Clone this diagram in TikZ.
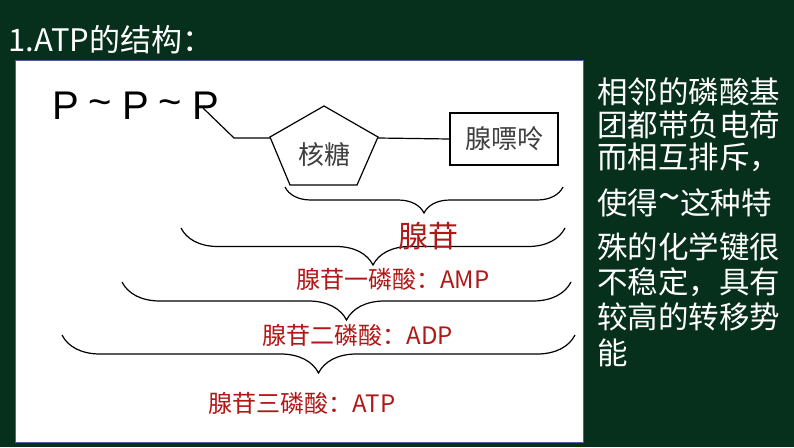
\documentclass[tikz,border=0pt]{standalone}
\usepackage{fontspec}
\setmainfont{Liberation Sans}
\newfontfamily\cjk{Noto Sans CJK SC}
\usetikzlibrary{decorations.pathreplacing,shapes.geometric}
\definecolor{board}{HTML}{06301C}
\definecolor{redt}{HTML}{B01818}
\tikzset{
  brc/.style={draw=black,line width=1.2pt,decorate,decoration={brace,mirror,amplitude=#1}},
  lbl/.style={text=redt,font=\cjk\fontsize{24}{24}\selectfont,inner sep=0pt},
  side/.style={text=white,anchor=west,inner sep=0pt,font=\cjk\fontsize{30.5}{30.5}\selectfont},
  ln/.style={draw=black,line width=1.2pt}
}
\newcommand{\tld}{\hspace{10pt}\raisebox{4pt}{\char`~}\hspace{10pt}}
\begin{document}
\begin{tikzpicture}[x=1pt,y=-1pt]
\fill[board] (0,0) rectangle (794,447);
\useasboundingbox (0,0) rectangle (794,447);
\draw[fill=white,draw=gray!70!blue,line width=1pt] (15,60) rectangle (583,442);
\node[text=white,anchor=west,inner sep=0pt,font=\cjk\fontsize{31}{31}\selectfont] (title) at (8,40) {1.ATP的结构：};
\node[anchor=west,inner sep=0pt,font=\fontsize{40}{40}\selectfont] (ppp) at (52,106) {P\tld P\tld P};
\coordinate (s) at (203,108);
\coordinate (k) at (234,138);
\draw[ln,fill=white] (324,106) -- (378,137) -- (357,185) -- (290,185) -- (270,137) -- cycle;
\node[font=\cjk\fontsize{26}{26}\selectfont,text=black!75,inner sep=0pt] (sugar) at (324,155) {核糖};
\node[draw=black,line width=1.2pt,minimum width=108pt,minimum height=52pt,inner sep=0pt,font=\cjk\fontsize{26}{26}\selectfont,text=black!75] (base) at (504,139) {腺嘌呤};
\coordinate (pl) at (270,138);
\coordinate (pr) at (378,138);
\draw[ln] (s) -- (k) -- (pl);
\draw[ln] (pr) -- (base.west);
\coordinate (b1a) at (285,187); \coordinate (b1b) at (563,187);
\coordinate (b2a) at (181,228); \coordinate (b2b) at (565,228);
\coordinate (b3a) at (122,282); \coordinate (b3b) at (571,282);
\coordinate (b4a) at (62,335); \coordinate (b4b) at (575,335);
\draw[brc=26pt] (b1a) -- (b1b);
\draw[brc=37pt] (b2a) -- (b2b);
\draw[brc=38pt] (b3a) -- (b3b);
\draw[brc=38pt] (b4a) -- (b4b);
\node[lbl,font=\cjk\fontsize{30}{30}\selectfont] (l1) at (428,236) {腺苷};
\node[lbl] (l2) at (393,279) {腺苷一磷酸：AMP};
\node[lbl] (l3) at (358,335) {腺苷二磷酸：ADP};
\node[lbl] (l4) at (302,403) {腺苷三磷酸：ATP};
\node[side] (t1) at (597,92) {相邻的磷酸基};
\node[side] (t2) at (597,125) {团都带负电荷};
\node[side] (t3) at (597,157) {而相互排斥，};
\node[side] (t4) at (597,203) {使得\raisebox{3pt}{\fontsize{40}{40}\selectfont\textasciitilde}这种特};
\node[side] (t5) at (597,247) {殊的化学键很};
\node[side] (t6) at (597,282) {不稳定，具有};
\node[side] (t7) at (597,317) {较高的转移势};
\node[side] (t8) at (597,353) {能};
\end{tikzpicture}
\end{document}
